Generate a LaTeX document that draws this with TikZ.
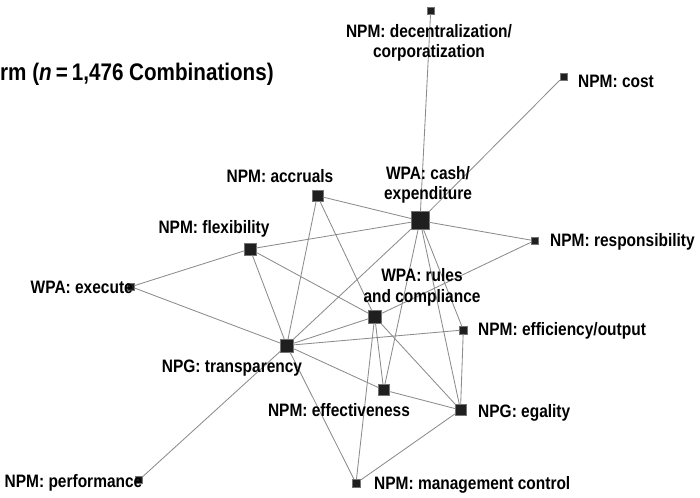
\documentclass[tikz,border=0pt]{standalone}
\usepackage{fontspec}
\setmainfont{Liberation Sans}[FakeStretch=0.86]
\begin{document}
\begin{tikzpicture}[x=1pt,y=-1pt,
  sq/.style={draw=black!55, line width=0.5pt, fill=black!88, minimum size=#1, inner sep=0pt, outer sep=0pt},
  lab/.style={font=\bfseries\fontsize{18}{20.5}\selectfont, inner sep=0pt, align=center, text=black},
  edge/.style={draw=black!45, line width=0.85pt}]
\useasboundingbox (0,0) rectangle (700,497);
% squares
\node[sq=7]  (dec)   at (430.7,10.7) {};
\node[sq=7]  (cost)  at (563.3,76.7) {};
\node[sq=11] (acc)   at (317.3,195.7) {};
\node[sq=18] (cash)  at (420,220.7) {};
\node[sq=7]  (resp)  at (534.3,240.7) {};
\node[sq=12] (flex)  at (250,249) {};
\node[sq=7]  (exec)  at (131,286.7) {};
\node[sq=13] (rules) at (374.7,316.7) {};
\node[sq=8]  (effic) at (463.3,330) {};
\node[sq=13] (trans) at (286.7,345.5) {};
\node[sq=11] (effe)  at (383.7,390) {};
\node[sq=11] (egal)  at (460.5,410) {};
\node[sq=7]  (perf)  at (139,480) {};
\node[sq=8]  (mgmt)  at (356,483.3) {};
% edges
\draw[edge] (dec) -- (cash);
\draw[edge] (cost) -- (cash);
\draw[edge] (acc) -- (cash);
\draw[edge] (acc) -- (trans);
\draw[edge] (acc) -- (rules);
\draw[edge] (flex) -- (cash);
\draw[edge] (cash) -- (resp);
\draw[edge] (cash) -- (trans);
\draw[edge] (cash) -- (effe);
\draw[edge] (cash) -- (egal);
\draw[edge] (cash) -- (effic);
\draw[edge] (flex) -- (exec);
\draw[edge] (flex) -- (trans);
\draw[edge] (flex) -- (rules);
\draw[edge] (exec) -- (trans);
\draw[edge] (rules) -- (resp);
\draw[edge] (rules) -- (trans);
\draw[edge] (rules) -- (effe);
\draw[edge] (rules) -- (mgmt);
\draw[edge] (rules) -- (egal);
\draw[edge] (trans) -- (effic);
\draw[edge] (trans) -- (effe);
\draw[edge] (trans) -- (perf);
\draw[edge] (trans) -- (mgmt);
\draw[edge] (effic) -- (egal);
\draw[edge] (effe) -- (egal);
\draw[edge] (egal) -- (mgmt);
% labels
\node[lab, anchor=west, font=\bfseries\fontsize{24}{28}\selectfont] (title) at (0,74) {rm (\textit{n}\,=\,1,476 Combinations)};
\node[lab] (ldec) at (429,43) {NPM: decentralization/\\corporatization};
\node[lab, anchor=west] (lcost) at (578,81.7) {NPM: cost};
\node[lab] (lacc) at (280,176) {NPM: accruals};
\node[lab] (lcash) at (428,185) {WPA: cash/\\expenditure};
\node[lab] (lflex) at (214,229) {NPM: flexibility};
\node[lab, anchor=west] (lresp) at (550,241.5) {NPM: responsibility};
\node[lab, anchor=east] (lexec) at (133,287) {WPA: execute};
\node[lab] (lrules) at (422,287.5) {WPA: rules\\and compliance};
\node[lab, anchor=west] (leffic) at (478,331) {NPM: efficiency/output};
\node[lab] (ltrans) at (232,368) {NPG: transparency};
\node[lab] (leffe) at (339,410) {NPM: effectiveness};
\node[lab, anchor=west] (legal) at (478,413) {NPG: egality};
\node[lab, anchor=west] (lperf) at (4.5,483) {NPM: performance};
\node[lab, anchor=west] (lmgmt) at (374,485) {NPM: management control};
\end{tikzpicture}
\end{document}
